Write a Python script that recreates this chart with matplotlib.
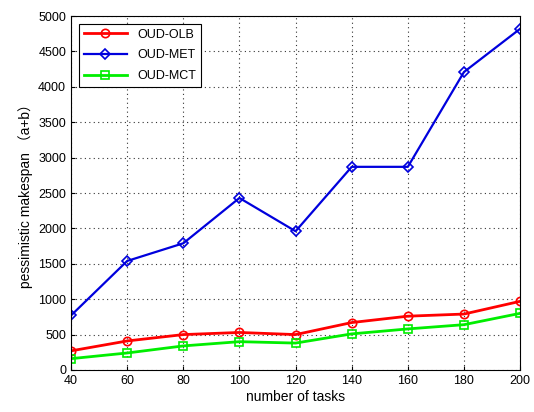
import matplotlib
matplotlib.use("Agg")
import matplotlib.pyplot as plt

tasks = [40, 60, 80, 100, 120, 140, 160, 180, 200]
olb = [270, 410, 500, 530, 500, 670, 760, 790, 970]
met = [770, 1540, 1790, 2430, 1960, 2870, 2870, 4210, 4820]
mct = [160, 240, 340, 400, 380, 510, 580, 640, 800]

plt.rcParams['font.family'] = ['Liberation Sans', 'Noto Sans CJK SC']
plt.rcParams['font.size'] = 9

fig = plt.figure(figsize=(5.34, 4.12), dpi=100)
ax = fig.add_axes([0.133, 0.102, 0.841, 0.859])

ax.plot(tasks, olb, color='red', marker='o', mfc='none', ms=6, lw=2, mew=1.2, label='OUD-OLB')
ax.plot(tasks, met, color='#0000dd', marker='D', mfc='none', ms=5, lw=1.6, mew=1.2, label='OUD-MET')
ax.plot(tasks, mct, color='#00ee00', marker='s', mfc='none', ms=6, lw=2, mew=1.2, label='OUD-MCT')

ax.set_xlim(40, 200)
ax.set_ylim(0, 5000)
ax.set_xticks(tasks)
ax.set_yticks(range(0, 5001, 500))
ax.grid(True, color='#333333', linestyle=(0, (1, 3)), linewidth=0.8)
ax.tick_params(direction='in', length=3)
for s in ax.spines.values():
    s.set_linewidth(0.8)

ax.set_xlabel('number of tasks', fontsize=10, labelpad=2)
ax.set_ylabel('pessimistic makespan （a+b）', fontsize=10, labelpad=4)

leg = ax.legend(loc='upper left', fancybox=False, framealpha=1, edgecolor='black',
                fontsize=9, borderaxespad=0.6, handlelength=3.5, labelspacing=0.7)
leg.get_frame().set_linewidth(0.8)

fig.savefig('out.png', dpi=100)
